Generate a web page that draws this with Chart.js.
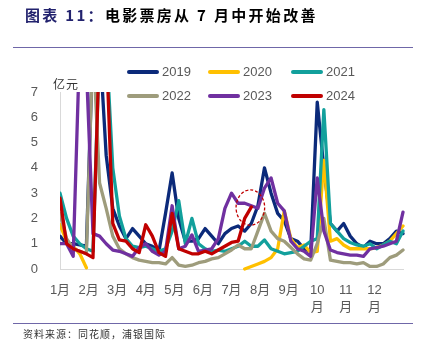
<!DOCTYPE html>
<html>
<head>
<meta charset="utf-8">
<script src="https://cdn.jsdelivr.net/npm/chart.js@4/dist/chart.umd.min.js"></script>
<style>
  html, body { margin: 0; padding: 0; background: #fff; }
  body { width: 426px; height: 358px; position: relative; overflow: hidden; font-family: "Noto Sans CJK SC", "Liberation Sans", sans-serif; }
  #title { position: absolute; left: 25px; top: 4px; font-size: 15px; font-weight: bold; letter-spacing: 2.3px; color: #000; white-space: nowrap; font-family: "Noto Sans CJK SC", sans-serif; }
  #title .lead { color: #22226e; }
  .rule { position: absolute; left: 13px; width: 400px; height: 1px; background: #6f67a8; }
  #source { position: absolute; left: 23px; top: 326px; font-size: 10px; letter-spacing: 1px; color: #333; white-space: nowrap; }
  #unit { position: absolute; left: 53px; top: 75px; font-size: 12px; color: #333; letter-spacing: 1px; }
  #legend { position: absolute; left: 127px; top: 63px; }
  .item { position: absolute; height: 18px; white-space: nowrap; }
  .item .sw { position: absolute; left: 0; top: 7px; width: 32px; height: 4px; border-radius: 2px; }
  .item .tx { position: absolute; left: 35px; top: 0; font-size: 13px; line-height: 18px; color: #595959; font-family: "Liberation Sans", sans-serif; }
  canvas { position: absolute; left: 0; top: 0; }
</style>
</head>
<body>
<canvas id="c" width="426" height="358"></canvas>
<div id="title"><span class="lead">图表 11：</span>电影票房从 7 月中开始改善</div>
<div class="rule" style="top:47px"></div>
<div class="rule" style="top:323px"></div>
<div id="source">资料来源：同花顺，浦银国际</div>
<div id="unit">亿元</div>
<div id="legend"></div>
<script>
// ---- data (weekly box office, 亿元) ----
const monthLabels = ["1月","2月","3月","4月","5月","6月","7月","8月","9月",["10","月"],["11","月"],["12","月"]];
const seriesNames = ["2019","2020","2021","2022","2023","2024"];
const seriesColors = ["#0b2a7a","#ffc000","#12a09c","#9e9c7c","#7030a0","#c00000"];

const y2019 = [1.3,1.0,1.0,0.95,0.9, 9,9,4.5,2.4,1.7, 1.2,1.6,1.3,1.0,0.9, 0.7,2.2,3.8,2.0,1.1, 1.1,1.2,1.6,1.3,1.0, 1.4,1.6,1.7,1.5,1.8, 2.5,4.0,3.0,2.2,1.9, 1.2,1.1,0.8,0.7,6.6, 4.0,1.8,1.5,1.8,1.3, 1.0,0.85,1.1,1.0,1.0, 1.2,1.5,1.4];
const y2020 = [1.75,1.1,0.9,0.6,0.05, null,null,null,null,null, null,null,null,null,null, null,null,null,null,null, null,null,null,null,null, null,null,null,0.0,0.1, 0.2,0.3,0.45,0.8,2.3, 1.2,0.85,0.95,0.65,0.7, 4.3,1.1,1.2,0.95,0.8, 0.8,0.8,0.8,0.85,0.95, 1.1,1.4,1.7];
const y2021 = [3.0,2.0,1.3,1.0,0.8, 0.7,9,9,4,2.1, 1.2,0.9,0.85,0.9,0.8, 0.7,0.8,1.5,2.7,1.0, 2.0,1.0,0.8,0.7,0.75, 0.7,0.8,0.9,1.1,0.9, 0.9,1.15,0.8,0.7,0.6, 0.65,0.7,0.9,1.1,1.2, 6.3,1.8,1.5,1.2,1.05, 0.95,0.9,1.0,0.8,0.95, 1.1,1.0,1.5];
const y2022 = [2.2,1.2,0.8,0.7,0.6, 9,3.4,2.4,1.3,0.8, 0.6,0.45,0.35,0.3,0.25, 0.25,0.2,0.45,0.15,0.1, 0.15,0.25,0.3,0.4,0.45, 0.6,0.75,0.95,0.8,0.8, 1.5,2.2,1.5,1.2,1.1, 0.85,0.6,0.4,0.35,1.0, 2.0,0.35,0.3,0.25,0.25, 0.2,0.25,0.1,0.1,0.2, 0.45,0.55,0.75];
const y2023 = [1.0,1.0,0.5,9,8, 1.4,1.3,1.0,0.75,0.7, 0.6,0.5,0.85,1.0,0.7, 0.55,0.7,2.5,0.8,0.9, 1.35,0.7,0.75,0.8,1.2, 2.4,3.0,2.6,2.6,2.5, 2.4,3.2,3.6,2.6,2.3, 1.1,0.8,0.7,0.5,3.6, 1.5,0.75,0.65,0.6,0.55, 0.55,0.5,0.8,0.85,0.9, 1.0,1.1,2.25];
const y2024 = [2.8,1.0,0.8,0.7,0.6, 0.45,9,9,1.8,1.15, 1.1,0.8,0.65,1.75,1.3, 0.65,0.5,2.2,0.8,0.7, 0.6,0.6,0.7,0.6,0.75, 0.9,1.05,1.1,2.0,2.45];
const yTicks = [0,1,2,3,4,5,6,7];
const weeksPerYear = 52;
const highlight = { month: 6.66, value: 2.43, halfMonths: 0.5, halfValue: 0.7 };

const allSeries = [y2019, y2020, y2021, y2022, y2023, y2024];
const toPoints = arr => arr.map((v, i) => ({ x: i * 12 / weeksPerYear, y: v }));

// legend
const legend = document.getElementById('legend');
seriesNames.forEach((n, i) => {
  const d = document.createElement('div');
  d.className = 'item';
  d.style.left = [0, 81, 164][i % 3] + 'px';
  d.style.top = (Math.floor(i / 3) * 24) + 'px';
  d.innerHTML = '<span class="sw" style="background:' + seriesColors[i] + '"></span><span class="tx">' + n + '</span>';
  legend.appendChild(d);
});

const circlePlugin = {
  id: 'circle',
  afterDatasetsDraw(chart) {
    const xs = chart.scales.x, ys = chart.scales.y, ctx = chart.ctx;
    const cx = xs.getPixelForValue(highlight.month);
    const cy = ys.getPixelForValue(highlight.value);
    const rx = xs.getPixelForValue(highlight.halfMonths) - xs.getPixelForValue(0);
    const ry = ys.getPixelForValue(0) - ys.getPixelForValue(highlight.halfValue);
    ctx.save();
    ctx.strokeStyle = '#c00000';
    ctx.lineWidth = 1.3;
    ctx.setLineDash([3, 2]);
    ctx.beginPath();
    ctx.ellipse(cx, cy, rx, ry, 0, 0, Math.PI * 2);
    ctx.stroke();
    ctx.restore();
  }
};

new Chart(document.getElementById('c'), {
  type: 'line',
  data: {
    datasets: allSeries.map((arr, i) => ({
      label: seriesNames[i],
      data: toPoints(arr),
      borderColor: seriesColors[i],
      backgroundColor: seriesColors[i],
      borderWidth: 3.3,
      borderJoinStyle: 'round',
      borderCapStyle: 'round',
      pointRadius: 0,
      tension: 0,
      spanGaps: false,
      order: allSeries.length - i,
      clip: { left: 0, top: 0, right: 2, bottom: 3 }
    }))
  },
  options: {
    responsive: false,
    animation: false,
    devicePixelRatio: 1,
    layout: { padding: { left: 0, right: 23, top: 92, bottom: 0 } },
    plugins: { legend: { display: false }, tooltip: { enabled: false } },
    scales: {
      x: {
        type: 'linear',
        min: 0, max: 12,
        afterFit(s) { s.height = 89; },
        afterBuildTicks(s) { s.ticks = monthLabels.map((_, i) => ({ value: i })); },
        grid: { display: false },
        border: { display: true, color: '#d9d9d9', width: 1 },
        ticks: {
          autoSkip: false, maxRotation: 0, padding: 5,
          color: '#595959',
          font: { size: 13, family: '"Liberation Sans", "Noto Sans CJK SC", sans-serif', lineHeight: 1.3 },
          callback: (v) => monthLabels[v]
        }
      },
      y: {
        min: 0, max: 7,
        afterFit(s) { s.width = 60; },
        afterBuildTicks(s) { s.ticks = yTicks.map(v => ({ value: v })); },
        grid: { display: false },
        border: { display: true, color: '#d9d9d9', width: 1 },
        ticks: {
          padding: 14, color: '#595959',
          font: { size: 13, family: '"Liberation Sans", sans-serif' }
        }
      }
    }
  },
  plugins: [circlePlugin]
});
</script>
</body>
</html>
